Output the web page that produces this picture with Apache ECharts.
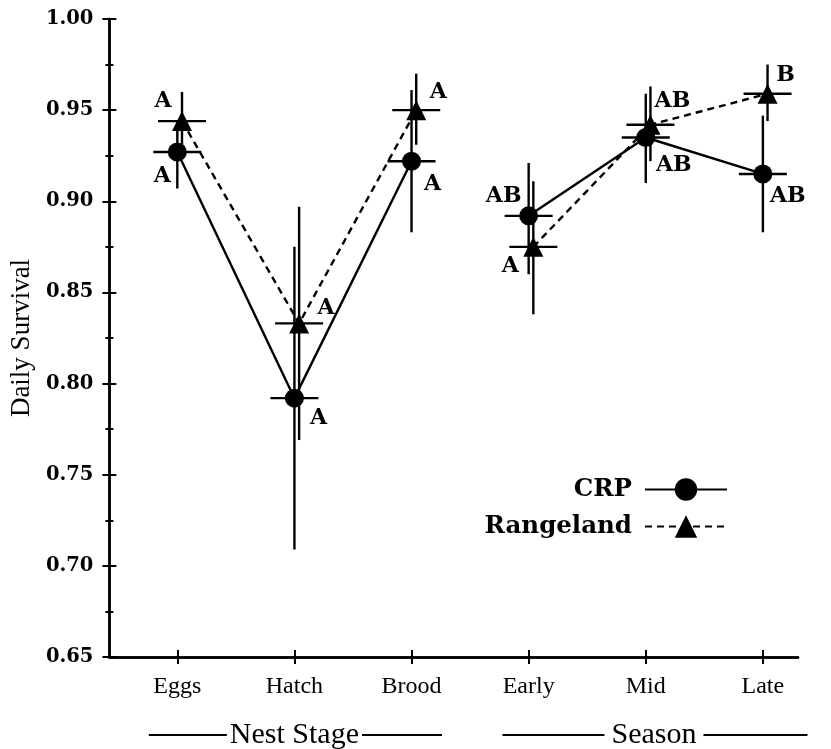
<!DOCTYPE html>
<html>
<head>
<meta charset="utf-8">
<script src="https://cdn.jsdelivr.net/npm/echarts@6/dist/echarts.min.js"></script>
<style>html,body{margin:0;padding:0;background:#fff}#c{width:831px;height:749px}</style>
</head>
<body>
<div id="c"></div>
<script>
// ---- data ----
const categories = ['Eggs', 'Hatch', 'Brood', 'Early', 'Mid', 'Late'];
const groupNames = ['Nest Stage', 'Season'];
const stageIdx = [0, 1, 2];
const seasonIdx = [3, 4, 5];
const crpMean = [0.927, 0.792, 0.922, 0.892, 0.935, 0.915];
const crpLow  = [0.907, 0.709, 0.883, 0.860, 0.910, 0.883];
const crpHigh = [0.943, 0.875, 0.961, 0.921, 0.959, 0.947];
const rngMean = [0.944, 0.833, 0.950, 0.875, 0.942, 0.959];
const rngLow  = [0.928, 0.769, 0.931, 0.838, 0.922, 0.944];
const rngHigh = [0.960, 0.897, 0.970, 0.911, 0.963, 0.975];
const crpLetters = ['A', 'A', 'A', 'AB', 'AB', 'AB'];
const rngLetters = ['A', 'A', 'A', 'A', 'AB', 'B'];

// ---- style ----
const FONT_SERIF = 'Liberation Serif';
const FONT_WIDE = 'DejaVu Serif';
const DODGE = 0.04;           // horizontal dodge of Rangeland in axis units
const HALF = 24;              // half width of horizontal CI bar, px
const LW = 2.4;
// letter label offsets (px) relative to point
const crpLabelOff = [[-15, 24], [24, 20], [21, 23], [-25, -20], [28, 28], [25, 22]];
const rngLabelOff = [[-19, -20], [27, -15], [22, -18], [-23, 19], [22, -23], [18, -18]];

function lineData(mean, dodge) {
  const d = [];
  stageIdx.forEach(i => d.push([i + 1 + dodge, mean[i]]));
  d.push([3.5 + dodge, '-']);
  seasonIdx.forEach(i => d.push([i + 1 + dodge, mean[i]]));
  return d;
}

function ciSeries(name, mean, low, high, letters, offs, dodge) {
  return {
    type: 'custom', name: name, z: 3,
    renderItem: function (params, api) {
      const i = params.dataIndex;
      const x = api.value(0);
      const pm = api.coord([x, api.value(1)]);
      const pl = api.coord([x, api.value(2)]);
      const ph = api.coord([x, api.value(3)]);
      return {
        type: 'group',
        children: [
          { type: 'line', shape: { x1: pm[0], y1: pl[1], x2: pm[0], y2: ph[1] }, style: { stroke: '#000', lineWidth: LW } },
          { type: 'line', shape: { x1: pm[0] - HALF, y1: pm[1], x2: pm[0] + HALF, y2: pm[1] }, style: { stroke: '#000', lineWidth: LW } },
          { type: 'text', x: pm[0] + offs[i][0], y: pm[1] + offs[i][1],
            style: { text: letters[i], fill: '#000', font: 'bold 22px "' + FONT_WIDE + '"', align: 'center', verticalAlign: 'middle' } }
        ]
      };
    },
    data: categories.map((c, i) => [i + 1 + dodge, mean[i], low[i], high[i]])
  };
}

const chart = echarts.init(document.getElementById('c'), null, { renderer: 'canvas' });

const baseY = {
  type: 'value', min: 0.65, max: 1.0, interval: 0.05, position: 'left',
  splitLine: { show: false },
  axisLine: { show: true, lineStyle: { color: '#000', width: 2.5 } },
  axisTick: { show: true, length: 7, lineStyle: { color: '#000', width: 2 } },
  minorTick: { show: true, splitNumber: 2, length: 4, lineStyle: { color: '#000', width: 2 } },
  minorSplitLine: { show: false }
};
const baseX = {
  type: 'value', min: 0.42, max: 6.3, position: 'bottom',
  splitLine: { show: false },
  axisLine: { show: true, onZero: false, lineStyle: { color: '#000', width: 2.5 } },
  axisTick: { show: true, length: 7, customValues: [1, 2, 3, 4, 5, 6], lineStyle: { color: '#000', width: 2 } }
};

const legendBase = {
  right: 103, align: 'right', itemWidth: 82, itemHeight: 28, itemGap: 0, padding: 0,
  textStyle: { color: '#000', fontFamily: FONT_WIDE, fontWeight: 'bold', fontSize: 24.5, padding: [0, 8, 0, 0] }
};

const option = {
  animation: false,
  backgroundColor: '#fff',
  grid: { left: 106, right: 33, top: 19, bottom: 92, containLabel: false },
  xAxis: [
    Object.assign({}, baseX, {
      axisLabel: {
        show: true, margin: 18, customValues: [1, 2, 3, 4, 5, 6],
        formatter: v => categories[Math.round(v) - 1] || '',
        color: '#000', fontFamily: FONT_SERIF, fontSize: 24
      }
    }),
    Object.assign({}, baseX, {
      axisTick: Object.assign({}, baseX.axisTick, { inside: true }),
      axisLabel: { show: false }
    })
  ],
  yAxis: [
    Object.assign({}, baseY, {
      name: 'Daily Survival', nameLocation: 'middle', nameRotate: 90, nameGap: 72,
      nameTextStyle: { color: '#000', fontFamily: FONT_SERIF, fontSize: 27 },
      axisLabel: { margin: 16, color: '#000', fontFamily: FONT_WIDE, fontWeight: 'bold', fontSize: 19.5,
        formatter: v => v.toFixed(2) }
    }),
    Object.assign({}, baseY, {
      axisTick: Object.assign({}, baseY.axisTick, { inside: true }),
      axisLabel: { show: false }
    })
  ],
  legend: [
    Object.assign({}, legendBase, { data: ['CRP'], top: 477 }),
    Object.assign({}, legendBase, { data: ['Rangeland'], top: 514 })
  ],
  series: [
    ciSeries('CRP CI', crpMean, crpLow, crpHigh, crpLetters, crpLabelOff, 0),
    ciSeries('Rangeland CI', rngMean, rngLow, rngHigh, rngLetters, rngLabelOff, DODGE),
    {
      name: 'CRP', type: 'line', z: 4, data: lineData(crpMean, 0), connectNulls: false,
      symbol: 'circle', symbolSize: 19,
      lineStyle: { color: '#000', width: LW, type: 'solid' },
      itemStyle: { color: '#000' }
    },
    {
      name: 'Rangeland', type: 'line', z: 4, data: lineData(rngMean, DODGE), connectNulls: false,
      symbol: 'triangle', symbolSize: 20,
      lineStyle: { color: '#000', width: LW, type: [7, 5] },
      itemStyle: { color: '#000' }
    }
  ]
};
chart.setOption(option);

// group captions under the axis
const CAP_FONT = '30px "' + FONT_SERIF + '"';
const cap = (name, center, leftLen, rightLen, gap) => {
  const cx = chart.convertToPixel({ xAxisIndex: 0 }, center);
  const y = 735;
  const tmp = new echarts.graphic.Text({ style: { text: name, font: CAP_FONT } });
  const w = tmp.getBoundingRect().width;
  return [
    { type: 'text', x: cx, y: y, style: { text: name, font: CAP_FONT, fill: '#000', align: 'center', verticalAlign: 'middle' } },
    { type: 'line', shape: { x1: cx - w / 2 - gap - leftLen, y1: y, x2: cx - w / 2 - gap, y2: y }, style: { stroke: '#000', lineWidth: 2 } },
    { type: 'line', shape: { x1: cx + w / 2 + gap, y1: y, x2: cx + w / 2 + gap + rightLen, y2: y }, style: { stroke: '#000', lineWidth: 2 } }
  ];
};
chart.setOption({
  graphic: [].concat(cap(groupNames[0], 2, 78, 80, 3), cap(groupNames[1], 5.07, 102, 104, 7))
});
</script>
</body>
</html>
